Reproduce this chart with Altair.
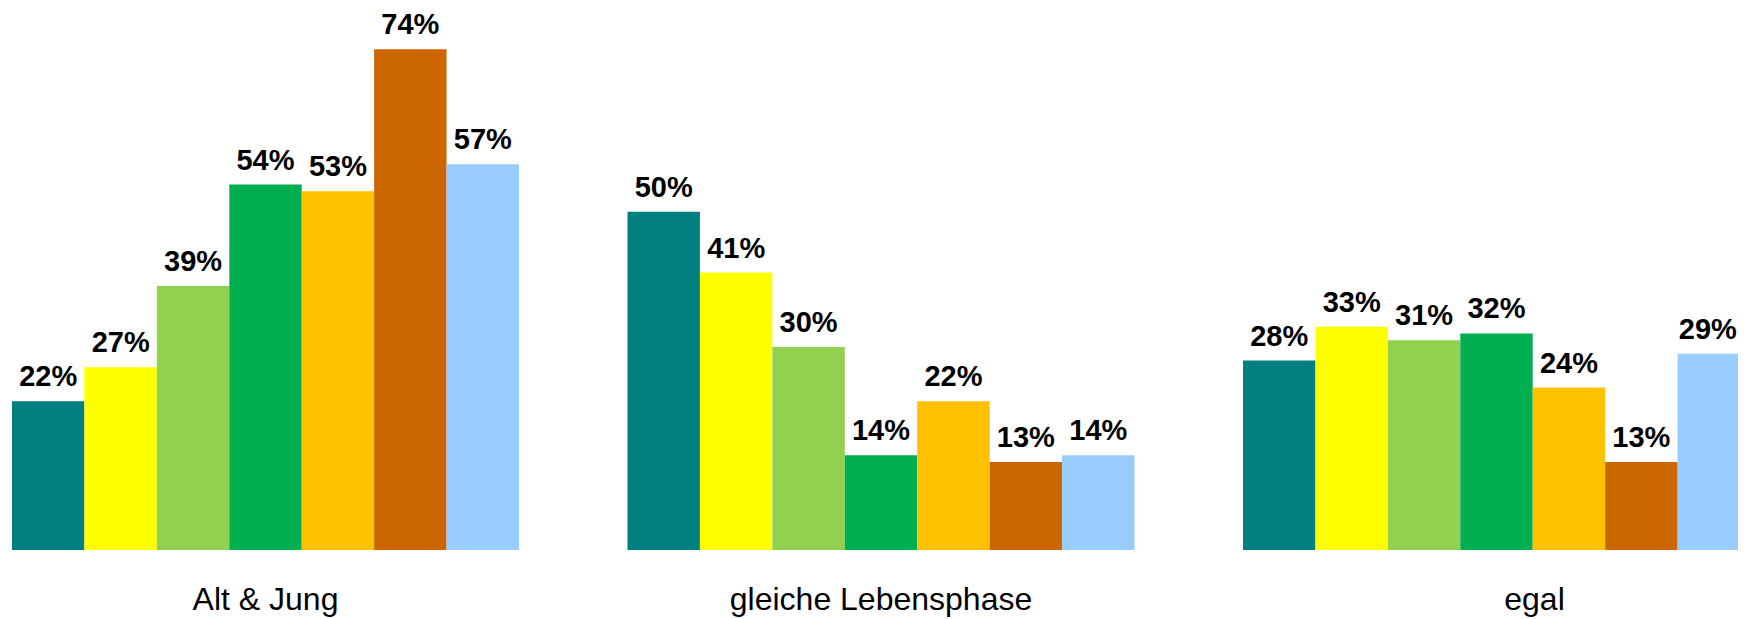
import altair as alt
import pandas as pd

groups = ["Alt & Jung", "gleiche Lebensphase", "egal"]
series = ["Gruppe 1", "Gruppe 2", "Gruppe 3", "Gruppe 4", "Gruppe 5", "Gruppe 6", "Gruppe 7"]
colors = ["#008080", "#FFFF00", "#92D050", "#00B050", "#FFC000", "#CC6600", "#99CCFF"]

s1 = [22, 50, 28]
s2 = [27, 41, 33]
s3 = [39, 30, 31]
s4 = [54, 14, 32]
s5 = [53, 22, 24]
s6 = [74, 13, 13]
s7 = [57, 14, 29]
values = [s1, s2, s3, s4, s5, s6, s7]

rows = []
for si, name in enumerate(series):
    for gi, g in enumerate(groups):
        v = values[si][gi]
        rows.append({"group": g, "series": name, "value": v, "label": f"{v}%"})
df = pd.DataFrame(rows)

x = alt.X(
    "group:N",
    sort=groups,
    scale=alt.Scale(paddingInner=0.1763, paddingOuter=0, round=False),
    axis=alt.Axis(
        title=None,
        labelAngle=0,
        ticks=False,
        domain=False,
        labelFontSize=32,
        labelFont="Liberation Sans",
        labelColor="#000000",
        labelPadding=34,
        labelLimit=0,
        labelOffset={"condition": {"test": "datum.value === 'egal'", "value": 38}, "value": 0},
    ),
)
xoff = alt.XOffset("series:N", sort=series, scale=alt.Scale(round=False))
y = alt.Y("value:Q", scale=alt.Scale(domain=[0, 79.8]), axis=None)

base = alt.Chart(df).encode(x=x, xOffset=xoff, y=y)

bars = base.mark_bar().encode(
    color=alt.Color("series:N", sort=series, scale=alt.Scale(domain=series, range=colors), legend=None)
)

labels = base.mark_text(
    baseline="alphabetic",
    dy=-15,
    dx={"expr": "datum.group === 'egal' && datum.series === 'Gruppe 7' ? -6 : 0"},
    fontSize=29,
    fontWeight="bold",
    font="Liberation Sans",
    color="#000000",
).encode(text="label:N")

chart = (
    alt.layer(bars, labels)
    .properties(
        width=1738,
        height=540,
        padding={"left": 4, "top": 2, "right": -12, "bottom": 68},
        autosize=alt.AutoSizeParams(type="none"),
    )
    .configure_view(stroke=None)
)

chart.save("out.html", embed_options={"renderer": "svg", "actions": False})
